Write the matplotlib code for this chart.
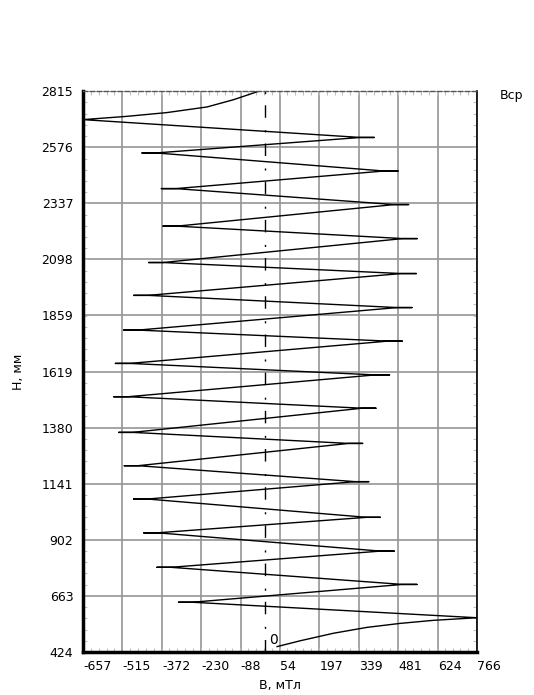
import matplotlib.pyplot as plt
from matplotlib.ticker import AutoMinorLocator

plt.rcParams['font.family'] = ['DejaVu Sans']

# axis ticks
x_ticks = [-657, -515, -372, -230, -88, 54, 197, 339, 481, 624, 766]
y_ticks = [424, 663, 902, 1141, 1380, 1619, 1859, 2098, 2337, 2576, 2815]

# B(H) curve
# rising curve at the bottom
start_b = [44, 128, 248, 369, 489, 609, 766]
start_h = [447, 472, 504, 529, 546, 559, 570]
# zigzag turning points: outer tip, point where the two lines meet, height
tip_b = [-312, 549, -390, 467, -438, 417, -474, 375, -508, 353, -528, 401,
         -546, 450, -540, 496, -510, 531, -474, 547, -420, 550, -368, 519,
         -374, 481, -444, 395]
meet_b = [-262, 497, -340, 417, -388, 367, -424, 327, -458, 303, -478, 351,
          -494, 398, -488, 444, -458, 478, -422, 493, -368, 498, -318, 468,
          -322, 430, -393, 345]
tip_h = [636, 712, 785, 854, 932, 998, 1076, 1150, 1218, 1313, 1360, 1463,
         1512, 1605, 1654, 1749, 1796, 1892, 1944, 2037, 2084, 2186, 2239, 2331,
         2399, 2474, 2551, 2617]
# curve at the top
end_b = [-657, -498, -354, -209, -113, -20]
end_h = [2693, 2707, 2723, 2747, 2778, 2815]

b_line = list(start_b)
h_line = list(start_h)
for tb, mb, th in zip(tip_b, meet_b, tip_h):
    b_line += [mb, tb, mb]
    h_line += [th, th, th]
b_line += end_b
h_line += end_h

fig = plt.figure(figsize=(5.34, 6.95), dpi=100)
ax = fig.add_axes([83 / 534, 43 / 695, 394 / 534, 561 / 695])

ax.plot(b_line, h_line, color='black', lw=1.0)
ax.axvline(0, color='black', lw=1.0, dashes=(9, 8, 1.5, 9))

ax.set_xlim(x_ticks[0], x_ticks[-1])
ax.set_ylim(y_ticks[0], y_ticks[-1])
ax.set_xticks(x_ticks)
ax.set_yticks(y_ticks)
ax.set_xticklabels([str(v) for v in x_ticks], ha='left')
ax.xaxis.set_minor_locator(AutoMinorLocator(5))
ax.yaxis.set_minor_locator(AutoMinorLocator(5))
ax.grid(True, which='major', color='#959595', lw=1.2)
ax.set_axisbelow(True)

ax.tick_params(which='major', length=0, labelsize=9, pad=7)
ax.tick_params(axis='x', which='major', pad=6)
ax.tick_params(which='minor', direction='in', length=3, width=0.8,
               color='#c0c0c0', top=True, right=True)

for side in ('left', 'bottom'):
    ax.spines[side].set_linewidth(2.5)
    ax.spines[side].set_color('black')
ax.spines['right'].set_linewidth(1.2)
ax.spines['top'].set_linewidth(1.0)
ax.spines['top'].set_color('#555555')
ax.spines['top'].set_linestyle((0, (3, 2)))

ax.set_xlabel('В, мТл', fontsize=9, labelpad=4)
ax.set_ylabel('Н, мм', fontsize=9, labelpad=12)

ax.text(15, 446, '0', fontsize=10, ha='left', va='bottom')
fig.text(500 / 534, (695 - 95) / 695, 'Вср', fontsize=9, ha='left', va='center')

fig.savefig('out.png', dpi=100)
